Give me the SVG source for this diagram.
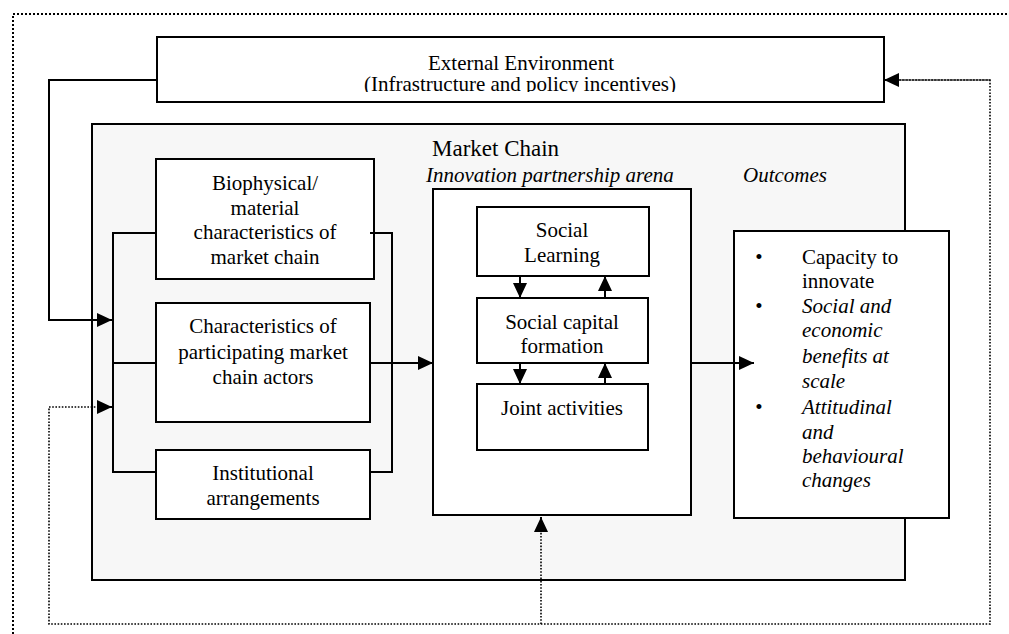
<svg xmlns="http://www.w3.org/2000/svg" width="1009" height="634" viewBox="0 0 1009 634">
<defs>
<marker id="ah" markerUnits="userSpaceOnUse" markerWidth="15" markerHeight="14" refX="15" refY="7" orient="auto">
<path d="M0,0 L15,7 L0,14 z" fill="#000"/>
</marker>
<clipPath id="extclip"><rect x="157" y="37" width="727" height="55"/></clipPath>
<style>
text{font-family:"Liberation Serif","Times New Roman",serif;font-size:21px;fill:#000}
.c{text-anchor:middle}
.i{font-style:italic}
.box{fill:#fff;stroke:#000;stroke-width:2}
.ln{fill:none;stroke:#000;stroke-width:2}
.dot{fill:none;stroke:#000;stroke-width:2;stroke-dasharray:2 2}
.fdot{fill:none;stroke:#000;stroke-width:1.6;stroke-dasharray:1.6 1.6}
</style>
</defs>
<rect width="1009" height="634" fill="#fff"/>
<g id="border">
<path class="dot" d="M13,634 V14 H1009"/>
</g>
<g id="external">
<rect class="box" x="157" y="37" width="727" height="65"/>
<g clip-path="url(#extclip)">
<text class="c" x="521" y="70">External Environment</text>
<text class="c" x="520" y="91">(Infrastructure and policy incentives)</text>
</g>
</g>
<g id="market-chain">
<rect x="92" y="124" width="813" height="456" fill="#f7f7f7" stroke="#000" stroke-width="2"/>
<text x="432" y="156" style="font-size:23px">Market Chain</text>
<text class="i" x="426" y="182">Innovation partnership arena</text>
<text class="i" x="743" y="182">Outcomes</text>
</g>
<g id="biophysical">
<rect class="box" x="156" y="159" width="218" height="120"/>
<text class="c" x="265" y="190">Biophysical/</text>
<text class="c" x="265" y="215">material</text>
<text class="c" x="265" y="239">characteristics of</text>
<text class="c" x="265" y="264">market chain</text>
</g>
<g id="actors">
<rect class="box" x="156" y="303" width="214" height="119"/>
<text class="c" x="263" y="333">Characteristics of</text>
<text class="c" x="263" y="359">participating market</text>
<text class="c" x="263" y="384">chain actors</text>
</g>
<g id="institutional">
<rect class="box" x="156" y="450" width="214" height="69"/>
<text class="c" x="263" y="480">Institutional</text>
<text class="c" x="263" y="505">arrangements</text>
</g>
<g id="innovation-arena">
<rect class="box" x="433" y="189" width="258" height="326"/>
</g>
<g id="social-learning">
<rect class="box" x="477" y="207" width="172" height="69"/>
<text class="c" x="562" y="237">Social</text>
<text class="c" x="562" y="262">Learning</text>
</g>
<g id="social-capital">
<rect class="box" x="477" y="298" width="171" height="65"/>
<text class="c" x="562" y="329">Social capital</text>
<text class="c" x="562" y="353">formation</text>
</g>
<g id="joint-activities">
<rect class="box" x="477" y="384" width="171" height="66"/>
<text class="c" x="562" y="415">Joint activities</text>
</g>
<g id="outcomes">
<rect class="box" x="734" y="231" width="215" height="287"/>
<text class="c" x="759" y="264">•</text>
<text x="802" y="264">Capacity to</text>
<text x="802" y="288">innovate</text>
<text class="c" x="759" y="313">•</text>
<text class="i" x="802" y="313">Social and</text>
<text class="i" x="802" y="337">economic</text>
<text class="i" x="802" y="363">benefits at</text>
<text class="i" x="802" y="388">scale</text>
<text class="c" x="759" y="414">•</text>
<text class="i" x="802" y="414">Attitudinal</text>
<text class="i" x="802" y="439">and</text>
<text class="i" x="802" y="463">behavioural</text>
<text class="i" x="802" y="487">changes</text>
</g>
<g id="connectors">
<path class="ln" d="M157,80 H49 V320 H112" marker-end="url(#ah)"/>
<path class="fdot" d="M884,80 H990 V624 H49 V407 H112" />
<path class="ln" d="M99,407 H112" marker-end="url(#ah)"/>
<path class="ln" d="M870,80 H884" marker-start="url(#ah)" style="display:none"/>
<path class="fdot" d="M990,80 H886"/>
<path class="ln" d="M898,80 H884" marker-end="url(#ah)"/>
<path class="fdot" d="M541,624 V517"/>
<path class="ln" d="M541,532 V517" marker-end="url(#ah)"/>
<path class="ln" d="M156,233 H113 V472 H156 M113,363 H156"/>
<path class="ln" d="M370,233 H392 V472 H370 M370,363 H392"/>
<path class="ln" d="M392,363 H433" marker-end="url(#ah)"/>
<path class="ln" d="M520,276 V298" marker-end="url(#ah)"/>
<path class="ln" d="M605,298 V276" marker-end="url(#ah)"/>
<path class="ln" d="M520,363 V384" marker-end="url(#ah)"/>
<path class="ln" d="M605,384 V363" marker-end="url(#ah)"/>
<path class="ln" d="M691,363 H754" marker-end="url(#ah)"/>
</g>
</svg>
